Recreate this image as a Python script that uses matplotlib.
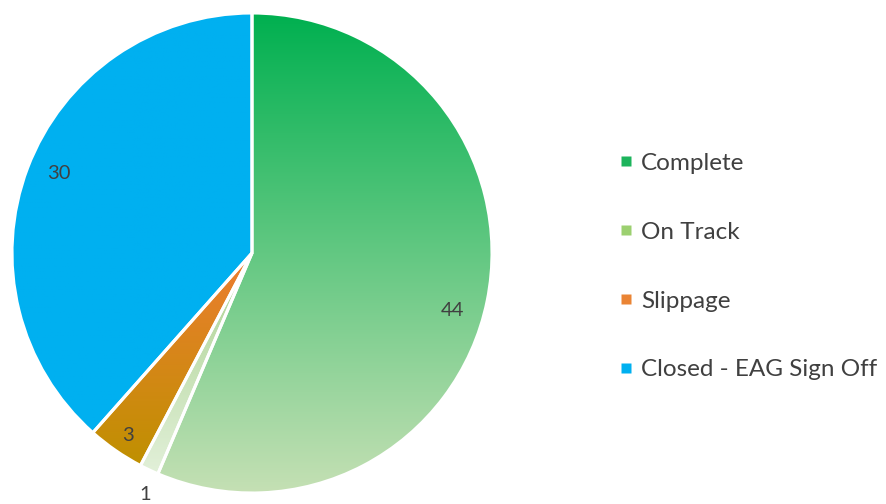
import numpy as np
import matplotlib.pyplot as plt
from matplotlib.colors import LinearSegmentedColormap
from matplotlib.lines import Line2D

plt.rcParams['font.family'] = ['Lato', 'DejaVu Sans']

categories = ['Complete', 'On Track', 'Slippage', 'Closed - EAG Sign Off']
values = [44, 1, 3, 30]
# top -> bottom gradient colours for each slice
grad_top = ['#00B050', '#A9D18E', '#ED7D31', '#00B0F0']
grad_bottom = ['#C5E0B4', '#E2F0D9', '#BF9000', '#00B0F0']
legend_colors = ['#1DB45C', '#9CD070', '#EA8434', '#00B0F0']
label_radius = [0.87, 1.1, 0.92, 0.87]
label_angle_shift = [-4.4, 1.4, 0.3, -1.5]

fig = plt.figure(figsize=(8.87, 5.04), dpi=100)
ax = fig.add_axes([12/887, 11/504, 480/887, 480/504])

wedges, _ = ax.pie(values, startangle=90, counterclock=False, radius=1,
                   wedgeprops=dict(edgecolor='white', linewidth=2.2))

for i, w in enumerate(wedges):
    ext = w.get_path().get_extents()
    cmap = LinearSegmentedColormap.from_list('g%d' % i, [grad_top[i], grad_bottom[i]])
    grad = np.linspace(0, 1, 256).reshape(-1, 1)
    im = ax.imshow(grad, cmap=cmap, aspect='auto', origin='upper',
                   extent=(ext.x0, ext.x1, ext.y0, ext.y1), zorder=1)
    im.set_clip_path(w)
    w.set_facecolor('none')
    w.set_zorder(2)

    ang = np.deg2rad((w.theta1 + w.theta2) / 2 + label_angle_shift[i])
    r = label_radius[i]
    ax.text(r * np.cos(ang), r * np.sin(ang), str(values[i]), ha='center', va='center',
            fontsize=14.5, color='#404040', zorder=3)

ax.set_xlim(-1, 1)
ax.set_ylim(-1, 1)
ax.set_aspect('equal')
ax.axis('off')

handles = [Line2D([], [], marker='s', linestyle='none', markersize=7,
                  markerfacecolor=c, markeredgecolor='none') for c in legend_colors]
leg = fig.legend(handles, categories, loc='center left', bbox_to_anchor=(0.671, 0.471),
                 frameon=False, fontsize=17.5, labelspacing=1.97, handletextpad=0.3,
                 handlelength=0.7, labelcolor='#404040')

fig.savefig('out.png', dpi=100)
